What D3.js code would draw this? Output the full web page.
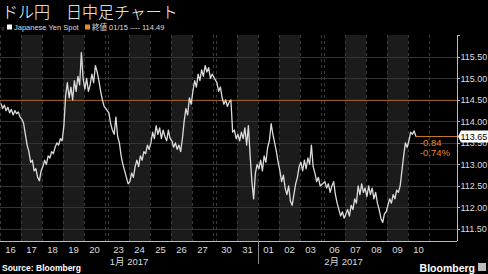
<!DOCTYPE html>
<meta charset="utf-8">
<script src="https://d3js.org/d3.v7.min.js"></script>
<style>
  body { margin: 0; background: #000; }
  svg { display: block; font-family: "Liberation Sans", Arial, sans-serif; }
</style>
<div id="chart"></div>
<script>
// day labels along the x axis, and where each trading week starts
var dayLabels = ["16","17","18","19","20","23","24","25","26","27","30","31","01","02","03","06","07","08","09","10"];
var weekStarts = [0, 5, 10, 15];
var months = [
  {label: "1月 2017", from: 0, to: 12},
  {label: "2月 2017", from: 12, to: 20}
];
var yTicks = [111.5, 112, 112.5, 113, 113.5, 114, 114.5, 115, 115.5];

// intraday prices (12 samples per day)
var prices = [
  [114.42,114.30,114.38,114.25,114.33,114.20,114.28,114.15,114.25,114.18,114.22,114.10],
  [114.05,113.95,113.70,113.45,113.30,113.05,113.10,112.85,112.90,112.70,112.62,112.85],
  [112.95,113.10,113.00,113.20,113.15,113.30,113.25,113.40,113.50,113.45,113.60,113.55],
  [113.90,114.60,114.90,114.55,114.80,114.50,114.95,114.70,115.05,114.85,115.60,115.00],
  [114.75,115.00,114.70,114.85,115.10,114.90,115.30,115.15,114.95,114.70,114.50,114.35],
  [114.20,113.95,113.80,113.70,114.10,113.65,113.50,113.20,113.00,112.85,112.70,112.55],
  [112.60,112.80,112.70,112.95,113.10,112.95,113.20,113.10,113.30,113.25,113.45,113.35],
  [113.50,113.75,113.60,113.90,113.70,113.85,113.60,113.80,113.65,113.55,113.80,113.60],
  [113.55,113.40,113.50,113.35,113.45,113.30,113.60,114.00,114.30,114.15,114.55,114.40],
  [114.70,114.95,114.80,115.10,114.95,115.20,115.05,115.30,115.15,115.25,115.00,115.10],
  [114.90,114.70,114.80,114.55,114.40,114.50,114.35,114.45,114.50,113.75,113.80,113.60],
  [113.70,113.55,113.75,113.60,113.85,113.45,113.90,113.20,112.60,112.20,112.80,113.00],
  [112.90,113.10,112.85,113.20,113.05,113.40,113.55,113.95,113.70,113.50,113.30,113.05],
  [112.85,112.60,112.75,112.45,112.30,112.50,112.15,112.05,112.30,112.55,112.70,112.95],
  [113.05,112.85,113.10,112.90,113.15,113.00,113.45,112.95,112.80,112.60,112.70,112.50],
  [112.60,112.45,112.55,112.35,112.50,112.60,112.30,112.10,111.95,111.80,111.90,111.75],
  [111.85,111.95,111.80,112.05,111.95,112.20,112.10,112.50,112.30,112.55,112.35,112.45],
  [112.25,112.50,112.30,112.45,112.20,112.35,112.10,111.95,111.75,111.65,111.85,111.90],
  [112.05,112.20,112.10,112.30,112.20,112.40,112.35,112.50,112.85,113.20,113.50,113.40],
  [113.55,113.75,113.70,113.78,113.65]
];
var samplesPerDay = 12;
var prevClose = 114.49;
var lastPrice = 113.65;
var change = "-0.84";
var changePct = "-0.74%";

var W = 488, H = 274;
var gap = 3 / 21; // weekend gap, in day units

function dayStart(i) {
  var w = weekStarts.filter(function(s) { return s <= i; }).length - 1;
  return i + w * gap;
}

var x = d3.scaleLinear().domain([0, 21.76]).range([0, 457]);
var y = d3.scaleLinear().domain([111.22, 116.01]).range([241, 35]);

var svg = d3.select("#chart").append("svg")
  .attr("width", W).attr("height", H);

svg.append("rect").attr("width", W).attr("height", H).attr("fill", "#000");

// shaded bands for Tue / Thu
dayLabels.forEach(function(d, i) {
  var pos = i - weekStarts.filter(function(s) { return s <= i; }).pop();
  if (pos === 1 || pos === 3) {
    svg.append("rect")
      .attr("x", x(dayStart(i))).attr("y", y.range()[1])
      .attr("width", x(dayStart(i) + 1) - x(dayStart(i)))
      .attr("height", y.range()[0] - y.range()[1])
      .attr("fill", "#1b1b1b");
  }
});

// horizontal grid
svg.selectAll(".grid").data(yTicks).enter().append("line")
  .attr("x1", 0).attr("x2", x(21.76))
  .attr("y1", function(d) { return Math.round(y(d)) + 0.5; })
  .attr("y2", function(d) { return Math.round(y(d)) + 0.5; })
  .attr("stroke", "#333").attr("stroke-width", 1);

// dashed day separators
var seps = [];
dayLabels.forEach(function(d, i) { seps.push(dayStart(i)); seps.push(dayStart(i) + 1); });
svg.selectAll(".sep").data(seps).enter().append("line")
  .attr("x1", function(d) { return Math.round(x(d)) + 0.5; })
  .attr("x2", function(d) { return Math.round(x(d)) + 0.5; })
  .attr("y1", 35).attr("y2", 241)
  .attr("stroke", "#3a3a3a").attr("stroke-dasharray", "3,3");

// previous close line
svg.append("line")
  .attr("x1", 0).attr("x2", x(21.76))
  .attr("y1", y(prevClose)).attr("y2", y(prevClose))
  .attr("stroke", "#a8651f").attr("stroke-width", 1);

// price line
var pts = [];
prices.forEach(function(day, i) {
  day.forEach(function(p, j) {
    pts.push([dayStart(i) + (j + 0.5) / samplesPerDay, p]);
  });
});
var lastX = x(pts[pts.length - 1][0]);

svg.append("line")
  .attr("x1", lastX).attr("x2", x(21.76))
  .attr("y1", y(lastPrice)).attr("y2", y(lastPrice))
  .attr("stroke", "#c77a28").attr("stroke-width", 1);

svg.append("path")
  .datum(pts)
  .attr("d", d3.line().x(function(d) { return x(d[0]); }).y(function(d) { return y(d[1]); }))
  .attr("fill", "none").attr("stroke", "#dcdcdc").attr("stroke-width", 1.3)
  .attr("stroke-linejoin", "round");

// change labels
svg.append("text").attr("x", lastX + 4).attr("y", y(lastPrice) + 10)
  .attr("fill", "#e08a2c").attr("font-size", 9.5).text(change);
svg.append("text").attr("x", lastX + 4).attr("y", y(lastPrice) + 20)
  .attr("fill", "#e08a2c").attr("font-size", 9.5).text(changePct);

// y axis
var ax = x(21.76);
svg.append("line").attr("x1", ax + 0.5).attr("x2", ax + 0.5).attr("y1", 35).attr("y2", 241)
  .attr("stroke", "#bbb");
svg.append("line").attr("x1", ax).attr("x2", ax + 3).attr("y1", 35.5).attr("y2", 35.5).attr("stroke", "#bbb");
svg.selectAll(".yt").data(yTicks).enter().append("line")
  .attr("x1", ax).attr("x2", ax + 3)
  .attr("y1", function(d) { return Math.round(y(d)) + 0.5; })
  .attr("y2", function(d) { return Math.round(y(d)) + 0.5; })
  .attr("stroke", "#bbb");
svg.selectAll(".yl").data(yTicks).enter().append("text")
  .attr("x", ax + 3.5).attr("y", function(d) { return y(d) + 3.5; })
  .attr("fill", "#ddd").attr("font-size", 9)
  .text(function(d) { return d.toFixed(2); });

// last price tag
var ly = y(lastPrice);
svg.append("path")
  .attr("d", "M" + (ax + 1) + "," + ly + " L" + (ax + 4) + "," + (ly - 6) + " H488 V" + (ly + 6) + " H" + (ax + 4) + " Z")
  .attr("fill", "#fff");
svg.append("text").attr("x", ax + 3.5).attr("y", ly + 3.5)
  .attr("fill", "#000").attr("font-size", 9).text(lastPrice.toFixed(2));

// x axis
svg.append("line").attr("x1", 0).attr("x2", ax).attr("y1", 241.5).attr("y2", 241.5).attr("stroke", "#bbb");
svg.selectAll(".xl").data(dayLabels).enter().append("text")
  .attr("x", function(d, i) { return x(dayStart(i) + 0.5); })
  .attr("y", 252.5).attr("text-anchor", "middle")
  .attr("fill", "#ddd").attr("font-size", 9.5)
  .text(function(d) { return d; });
svg.append("line")
  .attr("x1", Math.round(x(dayStart(12))) + 0.5).attr("x2", Math.round(x(dayStart(12))) + 0.5)
  .attr("y1", 241).attr("y2", 264).attr("stroke", "#888");
svg.selectAll(".ml").data(months).enter().append("text")
  .attr("x", function(d) { return (x(dayStart(d.from)) + x(dayStart(d.to - 1) + 1)) / 2; })
  .attr("y", 264.5).attr("text-anchor", "middle")
  .attr("fill", "#ddd").attr("font-size", 9.5)
  .style("font-family", "'Liberation Sans', 'Noto Sans CJK JP', sans-serif")
  .text(function(d) { return d.label; });

// title and legend
svg.append("text").attr("x", 2).attr("y", 18)
  .attr("fill", "#fff").attr("font-size", 16)
  .style("font-family", "'Noto Sans CJK JP', sans-serif").style("font-weight", 300)
  .text("ドル円　日中足チャート");
svg.append("text").attr("x", 1).attr("y", 30.5).attr("fill", "#888").attr("font-size", 7).text("▿");
svg.append("rect").attr("x", 7).attr("y", 24.5).attr("width", 5).attr("height", 5).attr("fill", "#fff");
svg.append("text").attr("x", 14).attr("y", 30).attr("fill", "#ddd").attr("font-size", 7.5).text("Japanese Yen Spot");
svg.append("rect").attr("x", 85).attr("y", 24.5).attr("width", 5).attr("height", 5).attr("fill", "#e08a2c");
svg.append("text").attr("x", 92).attr("y", 30).attr("fill", "#ddd").attr("font-size", 7.5)
  .style("font-family", "'Liberation Sans', 'Noto Sans CJK JP', sans-serif")
  .text("終値 01/15 ---- " + prevClose.toFixed(2));

// footer
svg.append("text").attr("x", 2).attr("y", 271).attr("fill", "#fff")
  .attr("font-size", 8.5).attr("font-weight", "bold").text("Source: Bloomberg");
svg.append("text").attr("x", 475).attr("y", 272).attr("text-anchor", "end").attr("fill", "#fff")
  .attr("font-size", 10.5).attr("font-weight", "bold").text("Bloomberg");
svg.append("rect").attr("x", 478).attr("y", 263).attr("width", 8).attr("height", 8).attr("fill", "#bbb");
</script>
